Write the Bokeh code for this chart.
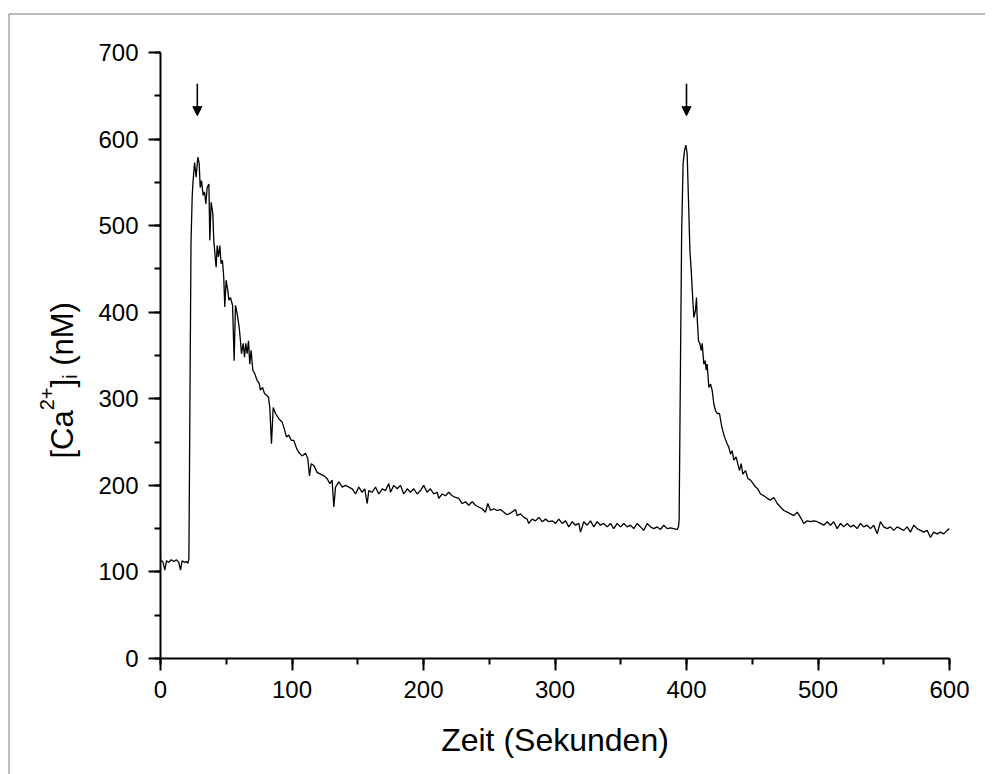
import math
from bokeh.plotting import figure
from bokeh.models import (Label, Arrow, NormalHead,
                          SingleIntervalTicker, Range1d)
from bokeh.embed import file_html
from bokeh.resources import INLINE

# ---- data ----
time_s = [0.5, 2, 3.3, 4.6, 6.3, 8.1, 10.1, 12.2, 13.9, 15.2, 16.5, 18.3, 19.8, 20.8, 21.6,
          22.4, 23.2, 24.1, 24.6, 25.9, 27.1, 28.4, 29.4, 30.2, 31.2, 32.4, 33.5, 34.5, 35.5,
          36.8, 37.5, 38.5, 39.8, 40.5, 42.3, 43.1, 44.1, 45.1, 46.1, 47.1, 48.1, 48.9, 49.9,
          51.2, 52, 53.2, 54.8, 56, 57, 58.3, 59.8, 60.8, 61.6, 62.9, 63.9, 64.9, 65.9, 66.9,
          67.9, 68.9, 70.2, 71.7, 73.5, 75, 76, 77.6, 79.1, 80.6, 82.1, 83.1, 84.4, 85.7, 87.5,
          90, 92.5, 93.8, 95.8, 97.6, 99.4, 101.4, 103.4, 105.2, 107.7, 110.3, 112, 113.3,
          114.6, 116.6, 119.1, 121.7, 124.2, 126.7, 128.7, 130.5, 131.8, 133.1, 135.6, 138.2,
          140.7, 143.2, 145.8, 148.3, 150.8, 153.3, 155.3, 157.2, 158.4, 160.9, 163.5, 166,
          168.6, 171.1, 173.6, 174.9, 177.4, 180, 182.5, 185, 187.6, 190.1, 192.6, 195.2,
          197.7, 200.2, 202.7, 205.3, 207.8, 210.4, 211.6, 214.2, 216.7, 219.2, 221.8, 224.3,
          226.8, 229.4, 231.9, 234.4, 237, 239.5, 242, 244.6, 247.1, 248.9, 251, 253.5, 256,
          258.6, 261.1, 263.6, 266.2, 270, 271.2, 273.8, 276.3, 278.8, 280, 282.6, 285.2,
          287.7, 290.3, 292.8, 295.3, 297.9, 300.4, 302.9, 305.5, 308, 310.5, 313.1, 315.6,
          318.1, 319.4, 321.9, 324.5, 327, 329.5, 332.1, 334.6, 337.1, 339.7, 342.2, 344.7,
          347.3, 349.8, 352.3, 354.9, 357.4, 359.9, 362.5, 365, 367.5, 370.1, 372.6, 375.1,
          377.7, 380.2, 382.7, 385.3, 387.8, 390.3, 392.9, 393.9, 394.4, 395.3, 396.3, 397.4,
          398.5, 399.5, 400.5, 401.8, 402.6, 403.6, 404.8, 405.6, 406.8, 407.6, 408.1, 409.1,
          410.1, 411.2, 411.9, 413.2, 414.2, 415, 415.7, 417, 418.3, 419.5, 420.8, 422.1,
          423.3, 425.1, 426.4, 427.6, 428.9, 430.9, 432.2, 433.5, 434.7, 436, 437.7, 439,
          440.3, 441.6, 442.8, 444.9, 446.6, 448.7, 450.7, 452.5, 454.2, 456.3, 458.8, 461.4,
          463.9, 466.4, 469, 471.5, 474, 476.6, 479.1, 481.6, 484.2, 486.7, 489.2, 491.8,
          494.3, 496.8, 499.4, 501.9, 504.4, 507, 509.5, 512, 514.6, 517.1, 519.6, 522.2,
          524.7, 527.2, 529.8, 532.3, 534.8, 537.4, 539.9, 542.4, 545, 547.5, 550, 552.6,
          555.1, 557.6, 560.2, 562.7, 565.2, 567.8, 570.3, 572.8, 575.4, 577.9, 580.4, 583,
          585.5, 588, 590.6, 593.1, 595.6, 598.2, 600]
ca_nM = [114, 111, 102, 113, 111, 114, 112, 114, 111, 102, 113, 111, 112, 110, 115,
         300, 480, 533, 548, 573, 556, 579, 572, 544, 552, 535, 539, 525, 544,
         548, 483, 527, 514, 483, 452, 477, 464, 477, 456, 460, 440, 406, 437,
         425, 414, 417, 408, 344, 408, 398, 383, 367, 352, 364, 348, 364, 352, 367,
         340, 356, 333, 329, 321, 318, 310, 313, 306, 304, 302, 290, 248, 290, 283,
         277, 273, 267, 256, 258, 252, 252, 243, 238, 234, 237, 231, 211,
         225, 223, 215, 213, 211, 208, 202, 206, 175, 198, 204, 198,
         200, 198, 196, 190, 198, 192, 196, 179, 194, 192, 198, 190,
         196, 194, 202, 192, 200, 196, 200, 190, 196, 192, 196, 190,
         194, 200, 192, 196, 190, 192, 185, 190, 188, 192, 188, 186,
         185, 179, 181, 177, 181, 177, 175, 173, 169, 179, 171, 173, 171,
         172, 169, 166, 168, 172, 165, 167, 163, 161, 156, 161, 159,
         163, 158, 161, 158, 159, 156, 161, 156, 159, 152, 158, 154,
         156, 146, 158, 154, 159, 152, 158, 154, 156, 152, 156, 150,
         156, 152, 156, 152, 154, 150, 156, 152, 148, 156, 152, 150,
         152, 149, 154, 150, 151, 150, 149, 152, 160, 320, 490, 571,
         587, 593, 583, 514, 471, 448, 414, 394, 402, 417, 394, 367,
         364, 356, 364, 340, 344, 333, 340, 313, 317, 310, 294, 286,
         283, 283, 271, 263, 256, 248, 244, 236, 240, 229, 233, 225,
         217, 225, 213, 217, 208, 206, 202, 198, 196, 190, 188, 185,
         183, 186, 179, 175, 171, 169, 167, 165, 169, 163, 156, 159,
         158, 159, 158, 156, 154, 158, 154, 158, 150, 156, 152, 156,
         152, 154, 150, 156, 152, 154, 150, 154, 144, 158, 152, 150,
         152, 148, 152, 150, 148, 152, 146, 154, 150, 148, 146, 148,
         140, 146, 144, 146, 144, 148, 150]

stimulus_times = [28, 400]      # arrows marking the additions
arrow_top, arrow_tip = 664, 627

x_ticks_interval = 100
y_ticks_interval = 100

FONT = "Liberation Sans"

p = figure(frame_width=789, frame_height=606,
           min_border_left=160, min_border_right=36,
           min_border_top=52, min_border_bottom=108,
           x_range=Range1d(0, 600), y_range=Range1d(0, 700),
           output_backend="svg", toolbar_location=None)

p.background_fill_color = "white"
p.border_fill_color = "white"
p.outline_line_color = None
p.grid.visible = False

p.line(time_s, ca_nM, line_color="black", line_width=1.3)

for t in stimulus_times:
    p.add_layout(Arrow(x_start=t, y_start=arrow_top, x_end=t, y_end=arrow_tip,
                       line_color="black", line_width=1.6,
                       end=NormalHead(size=9, fill_color="black", line_color="black",
                                      line_width=1)))

for ax, iv in ((p.xaxis, x_ticks_interval), (p.yaxis, y_ticks_interval)):
    ax.ticker = SingleIntervalTicker(interval=iv, num_minor_ticks=2)
    ax.axis_line_width = 2
    ax.axis_line_color = "black"
    ax.major_tick_line_width = 2
    ax.minor_tick_line_width = 2
    ax.major_tick_out = 12
    ax.major_tick_in = 0
    ax.minor_tick_out = 6
    ax.minor_tick_in = 0
    ax.major_label_text_font = FONT
    ax.major_label_text_font_size = "24px"
    ax.major_label_text_color = "black"

p.yaxis.major_label_standoff = 10
p.xaxis.major_label_standoff = 10

p.xaxis.axis_label = "Zeit (Sekunden)"
p.xaxis.axis_label_text_font = FONT
p.xaxis.axis_label_text_font_size = "32px"
p.xaxis.axis_label_text_font_style = "normal"
p.xaxis.axis_label_text_color = "black"
p.xaxis.axis_label_standoff = 21

# Annotations placed in the (off-screen growing) bottom side panel so that
# they are not clipped to the plot frame; positions are canvas pixels.

# rotated y-axis title with superscript and subscript
F, f = 31, 20
base_x = 62
y0 = 458
pieces = [("[Ca", F, 0, 1.556, 0), ("2+", f, -16, 1.140, 0), ("]", F, 0, 0.278, 0),
          ("i", f, 7, 0.222, 0), ("(nM)", F, 0, 2.055, 0.278 * F)]
yy = y0
for txt, size, dx, em, gap in pieces:
    yy -= gap
    p.add_layout(Label(x=base_x + dx, y=yy, x_units="canvas", y_units="canvas",
                       text=txt, angle=math.pi / 2, text_font=FONT,
                       text_font_size=f"{size}px", text_color="black",
                       text_align="left", text_baseline="alphabetic"), "below")
    yy -= em * size

# outer grey frame: only its top and left edges fall inside the page
PH, PV = 500, 400
p.add_layout(Label(x=8.5, y=13.5, x_units="canvas", y_units="canvas",
                   text=" ", text_font_size="1px", text_align="left",
                   text_baseline="top",
                   padding=(PH, PV), border_line_color="#7a7a7a",
                   border_line_width=1, background_fill_color=None), "below")

open("out.html", "w").write(file_html(p, INLINE))
